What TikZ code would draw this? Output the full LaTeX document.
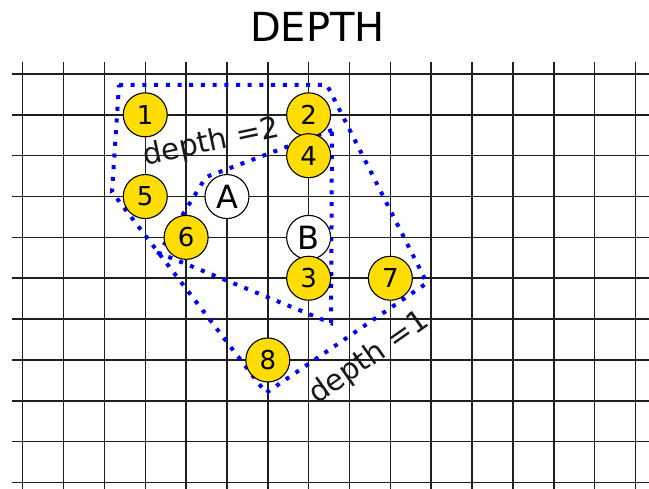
\documentclass[tikz,border=0pt]{standalone}
\usepackage{fontspec}
\setmainfont{DejaVu Sans}
\definecolor{ptyellow}{RGB}{255,221,0}
\begin{document}
\begin{tikzpicture}[x=1pt,y=-1pt,
  gridline/.style={line width=1.5pt, black!88},
  pt/.style={circle, draw=black, line width=1.1pt, fill=ptyellow, minimum size=44pt, inner sep=0pt, font=\fontsize{26}{26}\selectfont},
  ptw/.style={pt, fill=white, font=\fontsize{32}{32}\selectfont},
  hull/.style={draw=blue, line width=4pt, dash pattern=on 4pt off 7.7pt},
  lbl/.style={font=\fontsize{29.5}{29.5}\selectfont, text=black!90, inner sep=0pt, anchor=base}]
\useasboundingbox (0,0) rectangle (649,489);
% grid
\foreach \j in {0,...,10} \draw[gridline] (12,{74+40.85*\j}) -- (649,{74+40.85*\j});
\foreach \i in {0,...,15} \draw[gridline] ({22.7+40.85*\i},62) -- ({22.7+40.85*\i},489);
% title
\node[anchor=base, inner sep=0pt, font=\fontsize{40}{40}\selectfont] (title) at (317.5,42) {DEPTH};
% hull vertices
\coordinate (o1) at (119,85);
\coordinate (o2) at (327,85);
\coordinate (o3) at (427,283);
\coordinate (o4) at (266,393);
\coordinate (o5) at (112,192);
\coordinate (i1) at (332,130);
\coordinate (i2) at (206,177);
\coordinate (i3) at (159,253);
\coordinate (i4) at (331,323);
\draw[hull] (o1) -- (o2) -- (o3) -- (o4) -- (o5) -- cycle;
\draw[hull] (i1) -- (i2) -- (i3) -- (i4) -- cycle;
% labels
\node[lbl, rotate=12] (l2) at (213,151) {depth =2};
\node[lbl, rotate=35] (l1) at (374,365) {depth =1};
% points
\node[pt] (n1) at (145.25,114.85) {1};
\node[pt] (n2) at (308.65,114.85) {2};
\node[pt] (n4) at (308.65,155.7) {4};
\node[pt] (n5) at (145.25,196.55) {5};
\node[ptw] (nA) at (226.95,196.55) {A};
\node[pt] (n6) at (186.1,237.4) {6};
\node[ptw] (nB) at (308.65,237.4) {B};
\node[pt] (n3) at (308.65,278.25) {3};
\node[pt] (n7) at (390.35,278.25) {7};
\node[pt] (n8) at (267.8,359.95) {8};
\end{tikzpicture}
\end{document}
